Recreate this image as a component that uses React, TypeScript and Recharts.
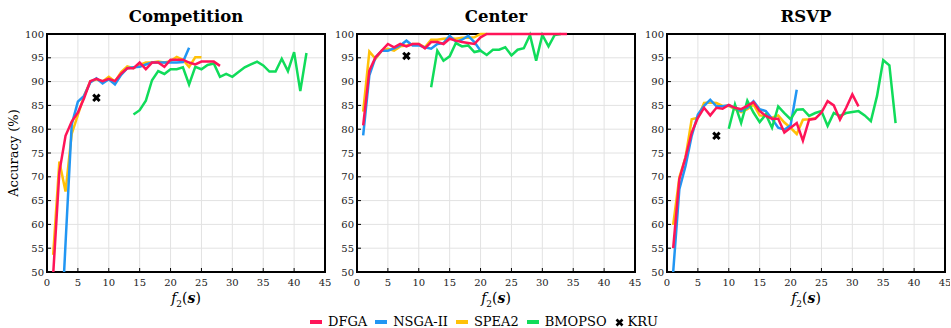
import React from 'react';
import {
  ComposedChart,
  Line,
  Scatter,
  XAxis,
  YAxis,
  CartesianGrid,
  ReferenceArea,
} from 'recharts';

// tick labels
const xTicks = [0, 5, 10, 15, 20, 25, 30, 35, 40, 45];
const yTicks = [50, 55, 60, 65, 70, 75, 80, 85, 90, 95, 100];

// Competition (values start at the given x)
const compDFGAStart = 1;
const compDFGA = [49.5, 71, 78.6, 81.6, 83.5, 86.5, 90.1, 90.6, 90.1, 90.6, 90.1, 91.7, 92.8, 92.8, 94.0, 92.6, 94.0, 94.0, 93.1, 94.6, 94.6, 94.6, 94.0, 93.6, 94.2, 94.2, 94.2, 93.3];
const compNSGAStart = 2;
const compNSGA = [30, 56, 81, 85.8, 87, 89.8, 90.7, 89.6, 90.5, 89.4, 91.4, 92.8, 93, 93.1, 93.6, 94, 94, 94, 94, 94, 94.1, 97.1];
const compSPEAStart = 1;
const compSPEA = [53.6, 73.2, 66.9, 79, 83, 87, 90, 90.5, 90, 91, 90, 92, 93.2, 92.8, 93.5, 94, 94, 94.2, 94, 94.3, 95.2, 94.6, 93.1, 95.1, 95.1];
const compBMOStart = 14;
const compBMO = [83.1, 84, 86, 90.3, 92.2, 91.6, 92.6, 92.6, 93, 89.4, 93.1, 92.6, 93.5, 93.8, 91, 91.6, 91, 92, 93, 93.6, 94.2, 93.4, 92.1, 92.1, 94.8, 92.2, 96.2, 88, 96];
const compKRU = [{ x: 8, y: 86.6 }];

// Center
const cenDFGAStart = 1;
const cenDFGA = [80.8, 92.3, 95.1, 96.5, 97.9, 97.2, 97.9, 97.4, 97.9, 97.9, 97.0, 98.3, 98.3, 97.9, 99.0, 98.6, 98.3, 98.1, 97.9, 99.3, 100, 100, 100, 100, 100, 100, 100, 100, 100, 100, 100, 100, 100, 100];
const cenNSGAStart = 1;
const cenNSGA = [78.7, 91.3, 95.1, 96.5, 96.5, 97.0, 97.6, 98.6, 97.6, 97.6, 97.2, 96.9, 97.9, 98.1, 99.6, 98.4, 98.8, 99.6, 98.3, 96.5];
const cenSPEAStart = 1;
const cenSPEA = [83.7, 96.3, 94.8, 96.5, 96.9, 96.5, 97.4, 97.6, 97.9, 97.9, 97.2, 98.8, 98.8, 99.0, 99.1, 99.0, 99.2, 99.2, 99.3, 100, 100];
const cenBMOStart = 12;
const cenBMO = [88.8, 96.5, 94.4, 95.3, 98.1, 97.4, 97.6, 96.2, 96.5, 95.6, 96.7, 96.7, 97.2, 95.5, 96.7, 97.0, 99.8, 94.4, 99.8, 97.4, 99.8, 100];
const cenKRU = [{ x: 8, y: 95.4 }];

// RSVP
const rsvpDFGAStart = 1;
const rsvpDFGA = [55.0, 69.5, 74.1, 79.3, 82.4, 84.5, 82.9, 84.5, 84.3, 85.1, 84.5, 84.2, 84.9, 85.7, 83.8, 82.8, 82.2, 82.2, 79.3, 80.3, 81.3, 77.6, 82.0, 82.2, 83.5, 85.9, 85.0, 82.0, 84.5, 87.3, 84.8];
const rsvpNSGAStart = 1;
const rsvpNSGA = [50, 67.4, 72.3, 78.6, 83.1, 84.9, 86.2, 84.8, 84.8, 85.0, 84.5, 83.8, 84.5, 85.9, 84.2, 83.8, 82.2, 80.3, 79.9, 80.8, 88.3];
const rsvpSPEAStart = 1;
const rsvpSPEA = [59.9, 69.9, 74.1, 82.1, 82.4, 85.5, 85.6, 85.5, 84.9, 84.9, 84.2, 83.6, 84.2, 85.2, 82.9, 82.8, 82.4, 82.9, 81.4, 80.3, 79.0, 82.0, 82.1, 82.3];
const rsvpBMOStart = 10;
const rsvpBMO = [80.1, 85.2, 81.3, 86.0, 83.5, 81.5, 83.1, 80.3, 84.8, 83.4, 82.1, 84.1, 84.2, 82.8, 83.4, 83.8, 80.7, 83.4, 82.8, 83.4, 83.6, 83.8, 82.9, 81.7, 87.0, 94.5, 93.4, 81.3];
const rsvpKRU = [{ x: 8, y: 78.6 }];

const RED = '#ff1458';
const BLUE = '#2196f3';
const YELLOW = '#ffc107';
const GREEN = '#10dc5a';

const SERIF = '"DejaVu Serif", serif';

const toPts = (start: number, vals: number[]) => vals.map((y, i) => ({ x: start + i, y }));

const KruShape = (props: any) => {
  const { cx, cy } = props;
  const s = 3.2;
  return (
    <path
      d={`M${cx - s},${cy - s}L${cx + s},${cy + s}M${cx - s},${cy + s}L${cx + s},${cy - s}`}
      stroke="#000"
      strokeWidth={3}
    />
  );
};

interface PanelProps {
  left: number;
  right: number;
  title: string;
  dfga: { x: number; y: number }[];
  nsga: { x: number; y: number }[];
  spea: { x: number; y: number }[];
  bmo: { x: number; y: number }[];
  kru: { x: number; y: number }[];
  clip?: boolean;
}

const PLOT_W = 278;

const Panel: React.FC<PanelProps> = ({ left, right, title, dfga, nsga, spea, bmo, kru, clip = false }) => {
  const width = 7 + 40 + PLOT_W + right;
  const tickStyle = { fontSize: 10, fill: '#222', fontFamily: SERIF };
  return (
    <div style={{ position: 'absolute', left, top: 0, width, height: 328 }}>
      <div
        style={{
          position: 'absolute',
          left: 47,
          width: PLOT_W,
          top: 6,
          textAlign: 'center',
          fontFamily: SERIF,
          fontWeight: 'bold',
          fontSize: 16.5,
          lineHeight: '22px',
        }}
      >
        {title}
      </div>
      <ComposedChart
        width={width}
        height={328}
        margin={{ top: 34, right, bottom: 26, left: 7 }}
      >
        <CartesianGrid stroke="#e2e2e2" strokeWidth={1} />
        <XAxis
          dataKey="x"
          type="number"
          domain={[0, 45]}
          ticks={xTicks}
          axisLine={false}
          tickSize={-4}
          tickMargin={11}
          tickLine={{ stroke: '#000' }}
          tick={tickStyle}
          height={30}
        />
        <YAxis
          type="number"
          domain={[50, 100]}
          ticks={yTicks}
          allowDataOverflow={clip}
          axisLine={false}
          tickSize={-4}
          tickMargin={7}
          tickLine={{ stroke: '#000' }}
          tick={tickStyle}
          width={40}
        />
        <XAxis
          xAxisId="top"
          orientation="top"
          type="number"
          domain={[0, 45]}
          ticks={xTicks}
          axisLine={false}
          tickSize={-4}
          tickLine={{ stroke: '#000' }}
          tick={false}
          height={0}
        />
        <YAxis
          yAxisId="right"
          orientation="right"
          type="number"
          domain={[50, 100]}
          ticks={yTicks}
          axisLine={false}
          tickSize={-4}
          tickLine={{ stroke: '#000' }}
          tick={false}
          width={0}
        />
        <ReferenceArea x1={0} x2={45} y1={50} y2={100} fill="none" stroke="#000" strokeWidth={2} ifOverflow="visible" />
        <Line data={spea} dataKey="y" stroke={YELLOW} strokeWidth={2.5} dot={false} isAnimationActive={false} />
        <Line data={nsga} dataKey="y" stroke={BLUE} strokeWidth={2.5} dot={false} isAnimationActive={false} />
        <Line data={bmo} dataKey="y" stroke={GREEN} strokeWidth={2.5} dot={false} isAnimationActive={false} />
        <Line data={dfga} dataKey="y" stroke={RED} strokeWidth={2.5} dot={false} isAnimationActive={false} />
        <Scatter data={kru} dataKey="y" shape={KruShape} isAnimationActive={false} />
      </ComposedChart>
      <div
        style={{
          position: 'absolute',
          left: 47,
          width: PLOT_W,
          top: 289,
          textAlign: 'center',
          fontFamily: SERIF,
          fontSize: 14,
          lineHeight: '18px',
        }}
      >
        <i>f</i>
        <sub style={{ fontSize: 9 }}>2</sub>(<b><i>s</i></b>)
      </div>
    </div>
  );
};

const legendItems = [
  { name: 'DFGA', color: RED },
  { name: 'NSGA-II', color: BLUE },
  { name: 'SPEA2', color: YELLOW },
  { name: 'BMOPSO', color: GREEN },
];

export default function App() {
  return (
    <div style={{ position: 'absolute', left: 0, top: 0, width: 951, height: 328, background: '#fff', overflow: 'hidden' }}>
      <Panel
        left={0}
        right={10}
        title="Competition"
        dfga={toPts(compDFGAStart, compDFGA)}
        nsga={toPts(compNSGAStart, compNSGA)}
        spea={toPts(compSPEAStart, compSPEA)}
        bmo={toPts(compBMOStart, compBMO)}
        kru={compKRU}
        clip
      />
      <Panel
        left={310}
        right={10}
        title="Center"
        dfga={toPts(cenDFGAStart, cenDFGA)}
        nsga={toPts(cenNSGAStart, cenNSGA)}
        spea={toPts(cenSPEAStart, cenSPEA)}
        bmo={toPts(cenBMOStart, cenBMO)}
        kru={cenKRU}
      />
      <Panel
        left={620}
        right={5}
        title="RSVP"
        dfga={toPts(rsvpDFGAStart, rsvpDFGA)}
        nsga={toPts(rsvpNSGAStart, rsvpNSGA)}
        spea={toPts(rsvpSPEAStart, rsvpSPEA)}
        bmo={toPts(rsvpBMOStart, rsvpBMO)}
        kru={rsvpKRU}
      />
      <div
        style={{
          position: 'absolute',
          left: 14,
          top: 153,
          transform: 'translate(-50%, -50%) rotate(-90deg)',
          whiteSpace: 'nowrap',
          fontFamily: SERIF,
          fontSize: 13,
          lineHeight: '16px',
        }}
      >
        Accuracy (%)
      </div>
      <div
        style={{
          position: 'absolute',
          left: 310,
          top: 314,
          height: 16,
          display: 'flex',
          alignItems: 'center',
          fontFamily: SERIF,
          fontSize: 13,
          lineHeight: '16px',
        }}
      >
        {legendItems.map((it) => (
          <div key={it.name} style={{ display: 'flex', alignItems: 'center', marginRight: 8 }}>
            <span style={{ display: 'inline-block', width: 12, height: 4, background: it.color, marginRight: 6 }} />
            <span>{it.name}</span>
          </div>
        ))}
        <div style={{ display: 'flex', alignItems: 'center' }}>
          <svg width={9} height={9} style={{ marginRight: 4 }}>
            <path d="M1.5,1.5L7.5,7.5M1.5,7.5L7.5,1.5" stroke="#000" strokeWidth={2.6} />
          </svg>
          <span>KRU</span>
        </div>
      </div>
    </div>
  );
}
